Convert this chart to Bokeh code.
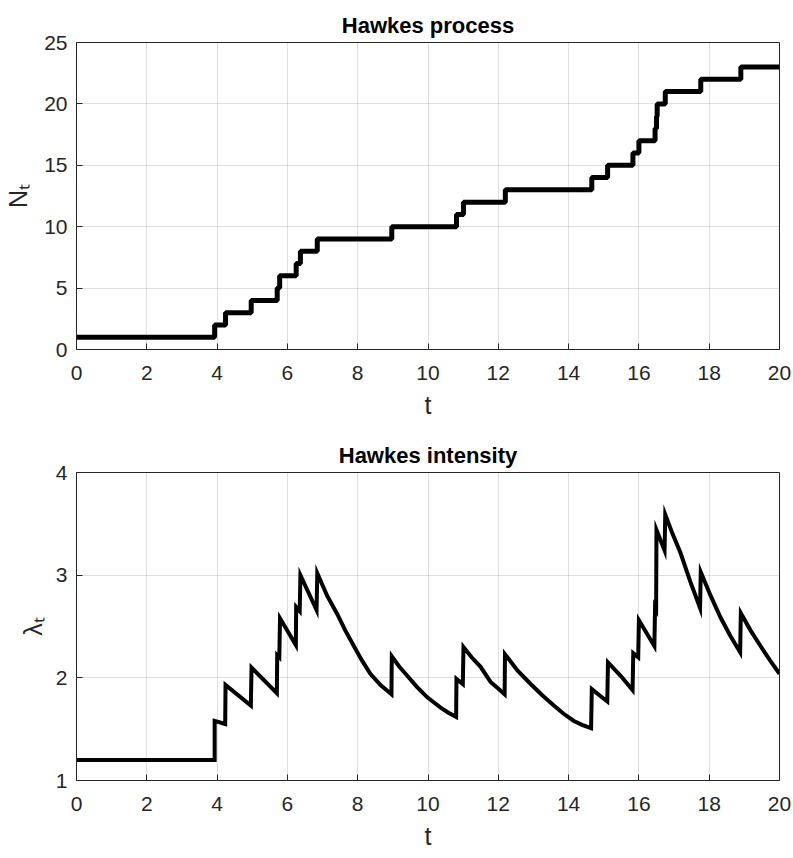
from bokeh.plotting import figure
from bokeh.layouts import column
from bokeh.models import Range1d, FixedTicker
from bokeh.embed import file_html
from bokeh.resources import INLINE

# ---- data ----
# Counting process N_t: jump times and level after each jump
event_times = [0.0, 3.93, 4.24, 4.97, 5.71, 5.78, 6.25, 6.37, 6.85, 8.97, 10.81, 11.01,
               12.20, 14.66, 15.11, 15.83, 16.00, 16.46, 16.50, 16.52, 16.75, 17.76, 18.90, 20.0]
counts = [1, 2, 3, 4, 5, 6, 7, 8, 9, 10, 11, 12, 13, 14, 15, 16, 17, 18, 19, 20, 21, 22, 23, 23]

# Intensity lambda_t: points (troughs, peaks, samples on decays)
lam_t = [0.0, 3.93, 3.93, 4.23, 4.24, 4.96, 4.98, 5.70, 5.71, 5.77, 5.79, 6.24, 6.25,
         6.35, 6.37, 6.83, 6.85, 7.13, 7.42, 7.65, 7.89, 8.12, 8.36, 8.65, 8.96, 8.97,
         9.18, 9.41, 9.69, 9.98, 10.17, 10.36, 10.58, 10.80,
         10.81, 10.99, 11.01, 11.24, 11.49, 11.78, 11.98, 12.18, 12.19, 12.55, 12.92, 13.25,
         13.58, 13.86, 14.15, 14.40, 14.64, 14.66,
         15.10, 15.12, 15.48, 15.82, 15.84, 15.98, 16.00, 16.44, 16.46, 16.49, 16.50, 16.73,
         16.75, 16.96, 17.18, 17.46, 17.74, 17.76, 18.04, 18.32, 18.60, 18.88, 18.90, 19.18,
         19.46, 19.73, 20.0]
lam_v = [1.20, 1.20, 1.58, 1.55, 1.93, 1.73, 2.10, 1.85, 2.22, 2.20, 2.58, 2.32, 2.69,
         2.65, 3.00, 2.66, 3.02, 2.80, 2.62, 2.46, 2.31, 2.17, 2.04, 1.93, 1.84, 2.21,
         2.11, 2.02, 1.91, 1.81, 1.76, 1.71, 1.66, 1.62,
         1.99, 1.94, 2.30, 2.20, 2.11, 1.96, 1.90, 1.84, 2.23, 2.07, 1.94, 1.83,
         1.73, 1.65, 1.58, 1.54, 1.51, 1.89,
         1.77, 2.15, 2.02, 1.88, 2.24, 2.20, 2.56, 2.31, 2.69, 2.67, 3.44, 3.24,
         3.59, 3.40, 3.22, 2.94, 2.68, 3.03, 2.80, 2.59, 2.41, 2.25, 2.63, 2.46,
         2.31, 2.17, 2.04]

x_ticks = [0, 2, 4, 6, 8, 10, 12, 14, 16, 18, 20]
n_ticks = [0, 5, 10, 15, 20, 25]
lam_ticks = [1, 2, 3, 4]

FONT = "Liberation Sans"
DARK = "#262626"


def style(p, yticks, ylabel, ystand):
    p.title.text_font = FONT
    p.title.text_font_size = "22px"
    p.title.text_font_style = "bold"
    p.title.text_color = "#000000"
    p.title.align = "center"
    p.title.standoff = 9
    p.xaxis.ticker = FixedTicker(ticks=x_ticks)
    p.yaxis.ticker = FixedTicker(ticks=yticks)
    for ax in (p.xaxis[0], p.yaxis[0]):
        ax.axis_line_color = DARK
        ax.major_tick_line_color = DARK
        ax.major_tick_in = 6
        ax.major_tick_out = 0
        ax.minor_tick_line_color = None
        ax.major_label_text_font = FONT
        ax.major_label_text_font_size = "21px"
        ax.major_label_text_color = DARK
        ax.axis_label_text_font = FONT
        ax.axis_label_text_font_size = "25px"
        ax.axis_label_text_font_style = "normal"
        ax.axis_label_text_color = DARK
    p.xaxis.axis_label = "t"
    p.xaxis.major_label_standoff = 16
    p.xaxis.axis_label_standoff = 8
    p.yaxis.axis_label = ylabel
    p.yaxis.major_label_standoff = 9
    p.yaxis.axis_label_standoff = ystand
    p.grid.grid_line_color = DARK
    p.grid.grid_line_alpha = 0.15
    p.outline_line_color = DARK
    p.outline_line_alpha = 1.0
    p.outline_line_width = 1
    p.background_fill_color = "white"
    p.border_fill_color = "white"


p1 = figure(width=793, height=430, output_backend="svg", toolbar_location=None,
            title="Hawkes process", x_range=Range1d(0, 20), y_range=Range1d(0, 25),
            min_border_left=76, min_border_right=14, min_border_top=42, min_border_bottom=81)
p1.step(event_times, counts, mode="after", line_color="black", line_width=5)
style(p1, n_ticks, "Nₜ", 9)

p2 = figure(width=793, height=428, output_backend="svg", toolbar_location=None,
            title="Hawkes intensity", x_range=Range1d(0, 20), y_range=Range1d(1, 4),
            min_border_left=76, min_border_right=14, min_border_top=42, min_border_bottom=78)
p2.line(lam_t, lam_v, line_color="black", line_width=4, line_join="miter")
style(p2, lam_ticks, "λₜ", 6)

layout = column(p1, p2)
open("out.html", "w").write(file_html(layout, INLINE))
